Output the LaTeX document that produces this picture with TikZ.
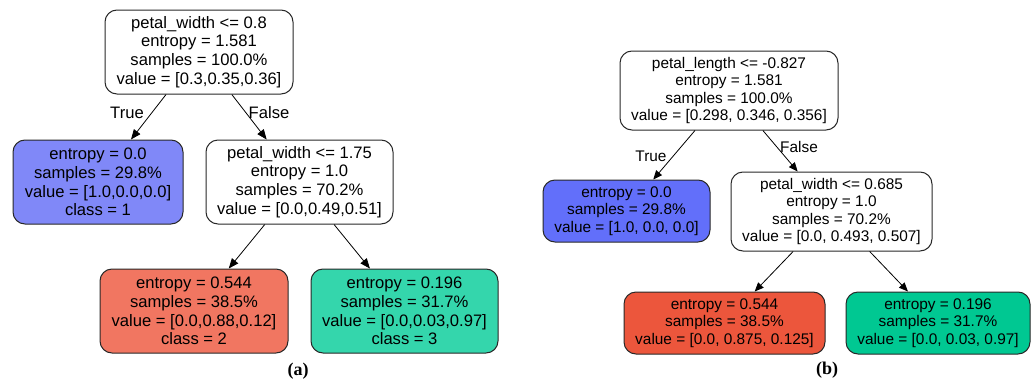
\documentclass[tikz,border=0pt]{standalone}
\usepackage{fontspec}
\setsansfont{Liberation Sans}
\newfontfamily\capserif{Liberation Serif}
\usetikzlibrary{arrows.meta}
\definecolor{blueA}{RGB}{128,136,248}
\definecolor{redA}{RGB}{241,118,97}
\definecolor{greenA}{RGB}{52,214,172}
\definecolor{blueB}{RGB}{98,111,250}
\definecolor{redB}{RGB}{236,86,60}
\definecolor{greenB}{RGB}{0,200,146}
\definecolor{edgegray}{RGB}{40,40,40}
\begin{document}
\begin{tikzpicture}[x=1pt,y=-1pt,
  tnode/.style={draw=edgegray, line width=1pt, rounded corners=12pt, align=center, inner sep=0pt},
  fa/.style={font=\sffamily\fontsize{16.6}{18.8}\selectfont},
  fb/.style={font=\sffamily\fontsize{15.4}{17.4}\selectfont},
  sa/.style={minimum width=188pt, minimum height=84pt},
  sb/.style={minimum height=62pt},
  arra/.style={-{Triangle[length=10pt,width=8pt]}, line width=0.8pt, black},
  arrb/.style={-{Triangle[length=9pt,width=7.5pt]}, line width=0.8pt, black},
  elab/.style={inner sep=0pt},
  captxt/.style={inner sep=0pt, font=\capserif\bfseries\fontsize{18}{20}\selectfont}]
\useasboundingbox (0,0) rectangle (1031,383);
% ---------- (a) ----------
\node[tnode, fa, sa, fill=white] (ra) at (199,52) {petal\_width <= 0.8\\entropy = 1.581\\samples = 100.0\%\\value = [0.3,0.35,0.36]};
\node[tnode, fa, minimum width=170pt, minimum height=84pt, fill=blueA] (la) at (98,182) {entropy = 0.0\\samples = 29.8\%\\value = [1.0,0.0,0.0]\\class = 1};
\node[tnode, fa, minimum width=187pt, minimum height=84pt, fill=white] (ma) at (299.5,182) {petal\_width <= 1.75\\entropy = 1.0\\samples = 70.2\%\\value = [0.0,0.49,0.51]};
\node[tnode, fa, sa, fill=redA] (rda) at (194,311) {entropy = 0.544\\samples = 38.5\%\\value = [0.0,0.88,0.12]\\class = 2};
\node[tnode, fa, minimum width=187pt, minimum height=84pt, fill=greenA] (ga) at (404.5,311) {entropy = 0.196\\samples = 31.7\%\\value = [0.0,0.03,0.97]\\class = 3};
\draw[arra] (ra) -- (la);
\draw[arra] (ra) -- (ma);
\draw[arra] (ma) -- (rda);
\draw[arra] (ma) -- (ga);
\node[elab, fa] (ta) at (127,113) {True};
\node[elab, fa] (fa0) at (269,113) {False};
\node[captxt] (capa) at (298,371) {(a)};
% ---------- (b) ----------
\node[tnode, fb, minimum width=218pt, minimum height=79pt, fill=white] (rb) at (729,90.5) {petal\_length <= -0.827\\entropy = 1.581\\samples = 100.0\%\\value = [0.298, 0.346, 0.356]};
\node[tnode, fb, minimum width=167pt, sb, fill=blueB] (lb) at (626.5,211) {entropy = 0.0\\samples = 29.8\%\\value = [1.0, 0.0, 0.0]};
\node[tnode, fb, minimum width=201pt, minimum height=79pt, fill=white] (mb) at (831.5,211.5) {petal\_width <= 0.685\\entropy = 1.0\\samples = 70.2\%\\value = [0.0, 0.493, 0.507]};
\node[tnode, fb, minimum width=201pt, sb, fill=redB] (rdb) at (724.5,323) {entropy = 0.544\\samples = 38.5\%\\value = [0.0, 0.875, 0.125]};
\node[tnode, fb, minimum width=184pt, sb, fill=greenB] (gb) at (938,323) {entropy = 0.196\\samples = 31.7\%\\value = [0.0, 0.03, 0.97]};
\draw[arrb] (rb) -- (lb);
\draw[arrb] (rb) -- (mb);
\draw[arrb] (mb) -- (rdb);
\draw[arrb] (mb) -- (gb);
\node[elab, fb] (tb) at (651,156) {True};
\node[elab, fb] (fb0) at (799,147) {False};
\node[captxt] (capb) at (827,370) {(b)};
\end{tikzpicture}
\end{document}
